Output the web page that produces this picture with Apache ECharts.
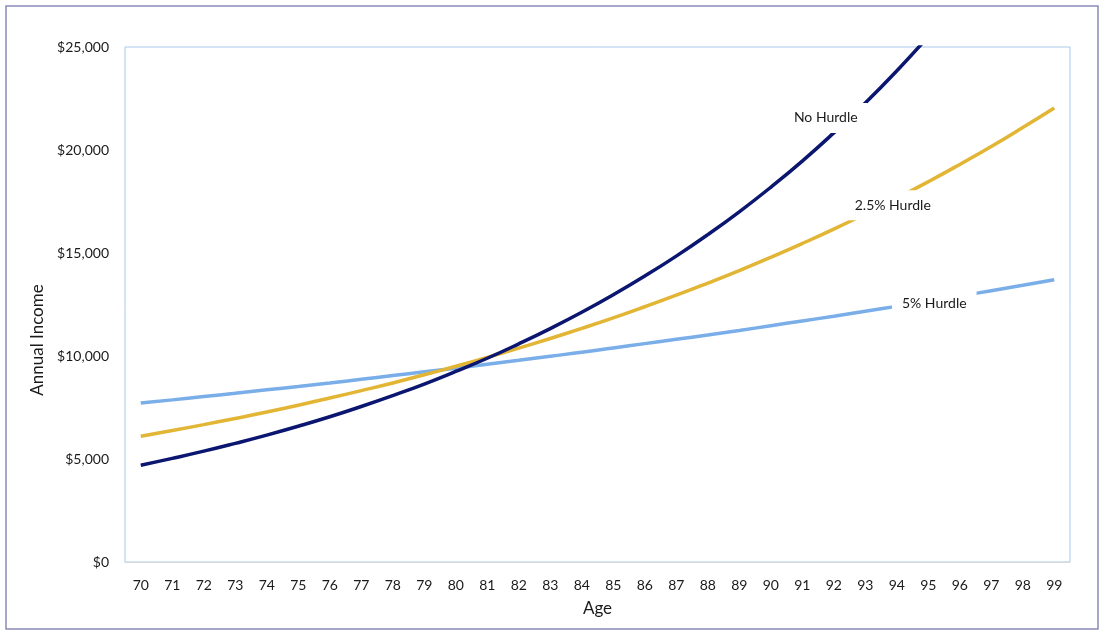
<!DOCTYPE html>
<html>
<head>
<meta charset="utf-8">
<script src="https://cdn.jsdelivr.net/npm/echarts@6/dist/echarts.min.js"></script>
<style>
html,body{margin:0;padding:0;background:#fff;}
#chart{width:1105px;height:635px;}
</style>
</head>
<body>
<div id="chart"></div>
<script>
const ages = [70,71,72,73,74,75,76,77,78,79,80,81,82,83,84,85,86,87,88,89,90,91,92,93,94,95,96,97,98,99];
const noHurdle = [4700,5030,5380,5760,6160,6590,7050,7550,8080,8640,9250,9890,10590,11330,12120,12970,13880,14850,15890,17000,18190,19460,20830,22280,23840,25510,27300,29210,31250,33440];
const hurdle25 = [6100,6380,6670,6970,7280,7610,7960,8320,8690,9090,9500,9930,10380,10850,11340,11850,12390,12950,13540,14150,14790,15460,16160,16900,17660,18460,19300,20170,21090,22040];
const hurdle5 = [7720,7870,8030,8190,8360,8520,8690,8870,9050,9230,9410,9600,9790,9990,10180,10390,10600,10810,11020,11240,11470,11700,11930,12170,12410,12660,12910,13170,13430,13700];
const seriesNames = ['No Hurdle','2.5% Hurdle','5% Hurdle'];
const yTicks = [0,5000,10000,15000,20000,25000];
const labelIdx = [22, 24, 25];

const FONT = 'Lato, "Open Sans", sans-serif';

function seriesLabel(values, idx, name, offset) {
  return {
    silent: true,
    animation: false,
    data: [{
      coord: [idx, values[idx]],
      symbol: 'circle',
      symbolSize: 1,
      itemStyle: {color: 'rgba(0,0,0,0)'},
      label: {
        show: true,
        formatter: name,
        position: 'inside',
        offset: offset,
        color: '#1a1a1a',
        fontFamily: FONT,
        fontSize: 14,
        backgroundColor: '#ffffff',
        padding: [8, 10]
      }
    }]
  };
}

const chart = echarts.init(document.getElementById('chart'));
chart.setOption({
  animation: false,
  backgroundColor: '#ffffff',
  graphic: [{
    type: 'rect',
    shape: {x: 6, y: 6, width: 1092, height: 623},
    style: {fill: 'none', stroke: '#8a8ab8', lineWidth: 1.5},
    silent: true
  }, {
    type: 'text',
    x: 38, y: 340,
    rotation: Math.PI / 2,
    style: {
      text: 'Annual Income',
      fontFamily: FONT, fontSize: 17, fill: '#1a1a1a',
      textAlign: 'center', textVerticalAlign: 'middle'
    },
    silent: true
  }],
  grid: {
    left: 125, right: 35, top: 47, bottom: 73,
    show: true, borderColor: '#a9c9ea', borderWidth: 1, backgroundColor: 'transparent'
  },
  xAxis: {
    type: 'category',
    data: ages,
    boundaryGap: true,
    name: 'Age',
    nameLocation: 'middle',
    nameGap: 38,
    nameTextStyle: {fontFamily: FONT, fontSize: 17, color: '#1a1a1a'},
    axisLine: {show: true, lineStyle: {color: '#d9d9d9', width: 1}},
    axisTick: {show: false},
    axisLabel: {fontFamily: FONT, fontSize: 14, color: '#1a1a1a', margin: 16, interval: 0},
    splitLine: {show: false}
  },
  yAxis: {
    type: 'value',
    min: 0, max: 25000, interval: 5000,
    axisLine: {show: false},
    axisTick: {show: false},
    splitLine: {show: false},
    axisLabel: {
      fontFamily: FONT, fontSize: 14, color: '#1a1a1a', margin: 16,
      formatter: v => yTicks.includes(v) ? '$' + v.toLocaleString('en-US') : ''
    }
  },
  series: [
    {
      name: seriesNames[0], type: 'line', smooth: true, symbol: 'none', clip: true,
      lineStyle: {color: '#0b1670', width: 3.5},
      itemStyle: {color: '#0b1670'},
      data: noHurdle,
      markPoint: seriesLabel(noHurdle, labelIdx[0], seriesNames[0], [-8, -15]),
      z: 3
    },
    {
      name: seriesNames[1], type: 'line', smooth: true, symbol: 'none', clip: true,
      lineStyle: {color: '#e2b534', width: 3.5},
      itemStyle: {color: '#e2b534'},
      data: hurdle25,
      markPoint: seriesLabel(hurdle25, labelIdx[1], seriesNames[1], [-4, 7]),
      z: 2
    },
    {
      name: seriesNames[2], type: 'line', smooth: true, symbol: 'none', clip: true,
      lineStyle: {color: '#7aaee8', width: 3.5},
      itemStyle: {color: '#7aaee8'},
      data: hurdle5,
      markPoint: seriesLabel(hurdle5, labelIdx[2], seriesNames[2], [6, 2]),
      z: 1
    }
  ]
});
</script>
</body>
</html>
